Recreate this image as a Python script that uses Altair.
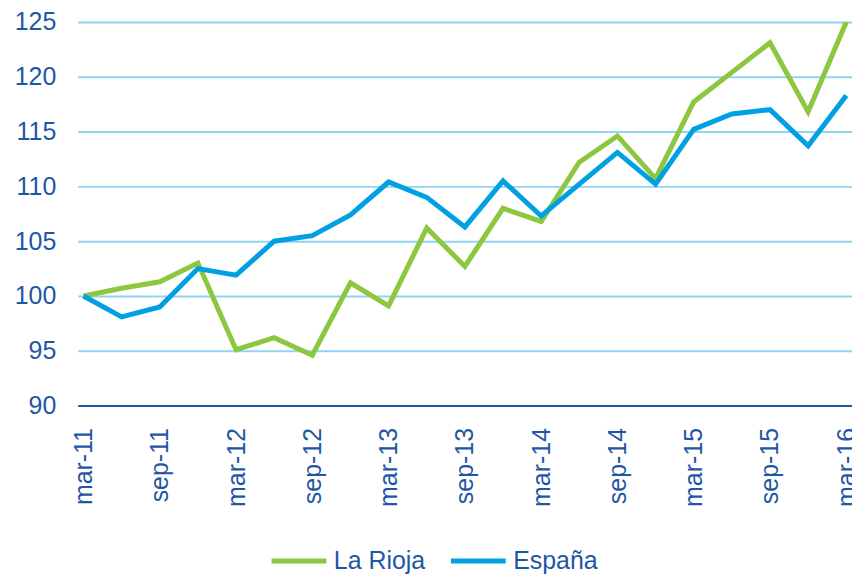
import altair as alt
import pandas as pd

quarters = [
    "mar-11", "jun-11", "sep-11", "dic-11",
    "mar-12", "jun-12", "sep-12", "dic-12",
    "mar-13", "jun-13", "sep-13", "dic-13",
    "mar-14", "jun-14", "sep-14", "dic-14",
    "mar-15", "jun-15", "sep-15", "dic-15",
    "mar-16",
]
la_rioja = [100.0, 100.7, 101.3, 103.0, 95.1, 96.2, 94.6, 101.2, 99.1, 106.2,
            102.7, 108.0, 106.8, 112.2, 114.6, 110.7, 117.7, 120.4, 123.1, 116.8, 125.0]
espana = [100.0, 98.1, 99.0, 102.5, 101.9, 105.0, 105.5, 107.4, 110.4, 109.0,
          106.3, 110.5, 107.3, 110.2, 113.1, 110.2, 115.2, 116.6, 117.0, 113.7, 118.3]
series_names = ["La Rioja", "España"]
series_colors = ["#8DC63F", "#00A0E3"]
x_tick_labels = [q for q in quarters if q.startswith("mar") or q.startswith("sep")]
y_ticks = [90, 95, 100, 105, 110, 115, 120, 125]

rows = []
for i, q in enumerate(quarters):
    rows.append({"q": q, "serie": series_names[0], "v": la_rioja[i]})
    rows.append({"q": q, "serie": series_names[1], "v": espana[i]})
df = pd.DataFrame(rows)

TXT = "#1F56A5"
FONT = "Liberation Sans"

x_enc = alt.X(
    "q:O", sort=quarters, title=None,
    scale=alt.Scale(type="point", padding=0.15),
    axis=alt.Axis(values=x_tick_labels, labelAngle=270, labelFontSize=25,
                  labelColor=TXT, labelFont=FONT, ticks=False, labelPadding=22,
                  domainColor="#1F5AA6", domainWidth=2, grid=False),
)
y_enc = alt.Y(
    "v:Q", title=None,
    scale=alt.Scale(domain=[90, 125], zero=False, nice=False),
    axis=alt.Axis(values=y_ticks, labelFontSize=25, labelColor=TXT, labelFont=FONT,
                  ticks=False, domain=False, labelPadding=22,
                  gridColor="#8ED4F5", gridWidth=2, gridOpacity=1),
)
color_enc = alt.Color(
    "serie:N", title=None,
    scale=alt.Scale(domain=series_names, range=series_colors),
    legend=alt.Legend(orient="none", direction="horizontal", legendX=192, legendY=511,
                      symbolType="stroke", symbolSize=3025, symbolStrokeWidth=5,
                      labelFontSize=25, labelColor=TXT, labelFont=FONT,
                      labelOffset=5, columnPadding=15, padding=0),
)

base = alt.Chart(df).mark_line(strokeWidth=5, strokeJoin="miter", clip=True).encode(
    x=x_enc, y=y_enc, color=color_enc
)
green = base.transform_filter(alt.datum.serie == "La Rioja")
blue = base.transform_filter(alt.datum.serie == "España")

chart = alt.layer(green, blue).properties(
    width=777, height=385,
    autosize=alt.AutoSizeParams(type="none"),
    padding={"left": 70, "top": 13, "right": 0, "bottom": 172},
).configure_view(stroke=None)

chart.save("out.html", embed_options={"renderer": "svg", "actions": False})
